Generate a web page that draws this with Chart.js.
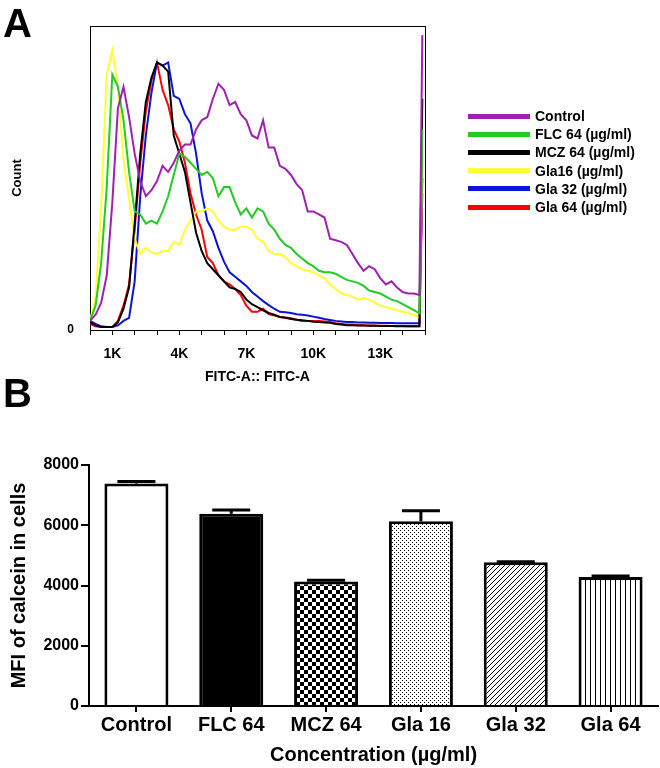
<!DOCTYPE html>
<html>
<head>
<meta charset="utf-8">
<script src="https://cdn.jsdelivr.net/npm/chart.js@4.4.0/dist/chart.umd.min.js"></script>
<style>
  body { margin:0; background:#fff; }
  #wrap { position:relative; width:660px; height:768px; font-family:'Liberation Sans', Arial, sans-serif; }
  canvas { position:absolute; left:0; }
  .panel { position:absolute; left:3px; font-weight:bold; font-size:40px; line-height:40px; }
  #legend { position:absolute; left:468px; top:107px; font-weight:bold; font-size:14px; }
  #legend div { display:flex; align-items:center; height:18.2px; }
  #legend span { display:inline-block; width:62px; height:5px; margin-right:5px; }
</style>
</head>
<body>
<div id="wrap">
  <canvas id="histo" width="660" height="390" style="top:0"></canvas>
  <canvas id="bars" width="660" height="378" style="top:390px"></canvas>
  <div class="panel" style="top:3px">A</div>
  <div class="panel" style="top:373px">B</div>
  <div id="legend"></div>
</div>
<script>
Chart.defaults.font.family = "'Liberation Sans', Arial, sans-serif"
Chart.defaults.color = '#000'
Chart.defaults.animation = false

// panel A - FITC-A histogram, x in thousands, count as % of plot height
const fitcBins = [0,0.25,0.5,0.75,1,1.25,1.5,1.75,2,2.25,2.5,2.75,3,3.25,3.5,3.75,4,4.25,4.5,4.75,
  5,5.25,5.5,5.75,6,6.25,6.5,6.75,7,7.25,7.5,7.75,8,8.25,8.5,8.75,9,9.25,9.5,9.75,
  10,10.25,10.5,10.75,11,11.25,11.5,11.75,12,12.25,12.5,12.75,13,13.25,13.5,13.75,14,14.25,14.5,14.75,14.88]
const controlCounts = [3,5,9,18,42,73,80,70,58,49, 44,46,49,54,52,55,59,61,61,66,
  69,70,76,81,79,74,75,71,69,64, 63,69,60,60,54,53,51,48,46,39,
  39,38,37,30,29.5,29,28,25,22,19.5, 21,20,17,15,16,14,12.5,12,12,11.5, 97]
const flc64Counts = [3,8,22,47,84,80,69,52,39,38, 35,36,35,39,44,51,58,57,55,53,
  51,52,50,44,47,47,42,38,40,37, 40,39,35,33,30,28,27,25,23.5,22,
  21,19.5,19,19,18.5,17.5,16.5,16,15.5,14.5, 13,12.5,12,11,10,9.5,8.5,7.5,6.5,5.5, 66]
const mcz64Counts = [2.5,1.5,1,1,1,2.5,7,14,35,58, 75,83,88,87,85,64,58,52,42,32,
  26,22,20,18,16,14,13.5,12.5,10,8.5, 7.5,6.5,5.6,5,4.3,4,3.6,3.4,3.2,3,
  2.7,2.6,2.5,2.4,2,1.8,1.6,1.6,1.5,1.5, 1.4,1.4,1.3,1.3,1.3,1.2,1.2,1.2,1.2,1.2, 76]
const gla16Counts = [3,11,40,84,92,80,56,43,30,25, 27,25.5,25,26,26,29,28,33,36,39,
  39,40,39,36,34,33,33,34,34,33, 30,29,26,25,25,24,22,21,20,19.5,
  19,18,17,15,13.5,12,11.5,11,10,10.5, 10,9,8,7.5,7,6.5,6,5.5,5,4, 56]
const gla32Counts = [3,2,1.2,1,1,1.5,3,4,16,44, 64,78,88,87,88,77,76,71,68,58,
  45,36,32.5,27,22.5,19,17.5,16,14.5,12.5, 11,9.5,8.2,7,6,5.8,5.6,5.2,5,4.8,
  4.4,4,3.6,3.3,3,2.8,2.6,2.6,2.5,2.5, 2.4,2.4,2.3,2.3,2.3,2.2,2.2,2.2,2.2,2.2, 50]
const gla64Counts = [2,1.2,1,1,1,3,8,15,33,55, 72,82,88,79,74,66,62,55,45,38,
  33,24,22,18,16,15,13.5,11.5,8,6, 6,7,5.2,4.8,4.3,4.1,3.9,3.4,3,3,
  3,3,2.8,2.6,2.2,2,1.8,1.8,1.6,1.6, 1.5,1.5,1.4,1.4,1.3,1.3,1.3,1.2,1.2,1.2, 45]
const histNames = ['Control','FLC 64 (µg/ml)','MCZ 64 (µg/ml)','Gla16 (µg/ml)','Gla 32 (µg/ml)','Gla 64 (µg/ml)']
const histColors = ['#a020b0','#22cc22','#000000','#ffff33','#0a14d2','#ff0000']
const kLabels = [1,4,7,10,13]

// panel B - calcein MFI
const groups = ['Control','FLC 64','MCZ 64','Gla 16','Gla 32','Gla 64']
const mfiValues = [7390,6380,4130,6130,4770,4280]
const mfiErrors = [60,127,45,353,15,37]
const mfiTicks = [0,2000,4000,6000,8000]

let histSeries = [controlCounts,flc64Counts,mcz64Counts,gla16Counts,gla32Counts,gla64Counts]

// legend of panel A
let legend = document.getElementById('legend')
histNames.forEach((name,k)=>{
  let row = document.createElement('div')
  let swatch = document.createElement('span')
  swatch.style.background = histColors[k]
  row.appendChild(swatch)
  row.insertAdjacentText('beforeend', name)
  legend.appendChild(row)
})

new Chart(document.getElementById('histo'),{
  type:'line',
  data:{
    datasets: histSeries.map((s,k)=>({
      label: histNames[k],
      data: s.map((c,i)=>({x:fitcBins[i], y:c})),
      borderColor: histColors[k],
      backgroundColor: histColors[k],
      borderWidth:2,
      pointRadius:0,
      tension:0,
      xAxisID:'x', yAxisID:'y'
    }))
  },
  options:{
    responsive:false,
    layout:{padding:{right:234}},
    plugins:{ tooltip:{enabled:false}, legend:{display:false} },
    scales:{
      x:{ type:'linear', position:'bottom', min:0, max:15,
        ticks:{stepSize:1, autoSkip:false, maxRotation:0, padding:11, font:{size:14, weight:'bold'},
          callback: v => kLabels.includes(v) ? v+'K' : ''},
        grid:{drawOnChartArea:false, drawTicks:true, tickLength:5, color:'#000'},
        border:{color:'#000', width:1},
        title:{display:true, text:'FITC-A:: FITC-A', font:{size:14, weight:'bold'}, padding:{top:0,bottom:4}},
        afterFit: s => { s.height = 60 } },
      xTop:{ type:'linear', position:'top', min:0, max:15,
        grid:{display:false}, ticks:{display:false}, border:{color:'#000', width:1},
        afterFit: s => { s.height = 26 } },
      y:{ min:0, max:100,
        grid:{display:false, drawTicks:false}, border:{color:'#000', width:1},
        ticks:{padding:16, font:{size:12, weight:'bold'}},
        afterBuildTicks: s => { s.ticks = [{value:0}] },
        title:{display:true, text:'Count', font:{size:13, weight:'bold'}, padding:{top:10,bottom:0}},
        afterFit: s => { s.width = 90 } },
      yRight:{ position:'right', min:0, max:100,
        grid:{display:false}, ticks:{display:false}, border:{color:'#000', width:1},
        afterFit: s => { s.width = 1 } }
    }
  }
})

// fill patterns for the bars
let barCtx = document.getElementById('bars').getContext('2d')
function tile(w,h,draw){
  let c = document.createElement('canvas')
  c.width = w; c.height = h
  let t = c.getContext('2d')
  t.fillStyle = '#fff'; t.fillRect(0,0,w,h)
  t.fillStyle = '#000'
  draw(t)
  return barCtx.createPattern(c,'repeat')
}
let checker = tile(8,8,t=>{ t.fillRect(0,0,4,4); t.fillRect(4,4,4,4) })
let dots = tile(4,4,t=>{ t.fillRect(0,0,1,1); t.fillRect(2,2,1,1) })
let diag = tile(5,5,t=>{ for(let i=0;i<5;i++) t.fillRect(i,4-i,1,1) })
let vert = tile(5,1,t=>{ t.fillRect(0,0,1,1) })
let fills = ['#fff','#000',checker,dots,diag,vert]

const errorBars = {
  id:'errorBars',
  afterDatasetsDraw(chart){
    let ctx = chart.ctx, y = chart.scales.y
    chart.getDatasetMeta(0).data.forEach((bar,i)=>{
      let top = y.getPixelForValue(mfiValues[i]+mfiErrors[i])
      ctx.save()
      ctx.strokeStyle = '#000'
      ctx.lineWidth = 3
      ctx.beginPath()
      ctx.moveTo(bar.x, bar.y); ctx.lineTo(bar.x, top)
      ctx.moveTo(bar.x-19, top); ctx.lineTo(bar.x+19, top)
      ctx.stroke()
      ctx.restore()
    })
  }
}

new Chart(barCtx,{
  type:'bar',
  data:{
    labels: groups,
    datasets:[{
      data: mfiValues,
      backgroundColor: fills,
      borderColor:'#000',
      borderWidth:3,
      barPercentage:0.675,
      categoryPercentage:1
    }]
  },
  options:{
    responsive:false,
    layout:{padding:{top:75, right:2}},
    plugins:{legend:{display:false}, tooltip:{enabled:false}},
    scales:{
      x:{ grid:{drawOnChartArea:false, offset:false, tickLength:6, color:'#000', lineWidth:2},
        border:{color:'#000', width:2},
        ticks:{padding:1, maxRotation:0, font:{size:20, weight:'bold'}},
        title:{display:true, text:'Concentration (µg/ml)', font:{size:20, weight:'bold'}, padding:{top:0,bottom:1}},
        afterFit: s => { s.height = 62 } },
      y:{ min:0, max:8000,
        afterBuildTicks: s => { s.ticks = mfiTicks.map(v=>({value:v})) },
        grid:{drawOnChartArea:false, tickLength:8, color:'#000', lineWidth:2},
        border:{color:'#000', width:2},
        ticks:{padding:2, font:{size:16, weight:'bold'}, callback: v => String(v)},
        title:{display:true, text:'MFI of calcein in cells', font:{size:20, weight:'bold'}, padding:{top:7,bottom:0}},
        afterFit: s => { s.width = 89 } }
    }
  },
  plugins:[errorBars]
})
</script>
</body>
</html>
